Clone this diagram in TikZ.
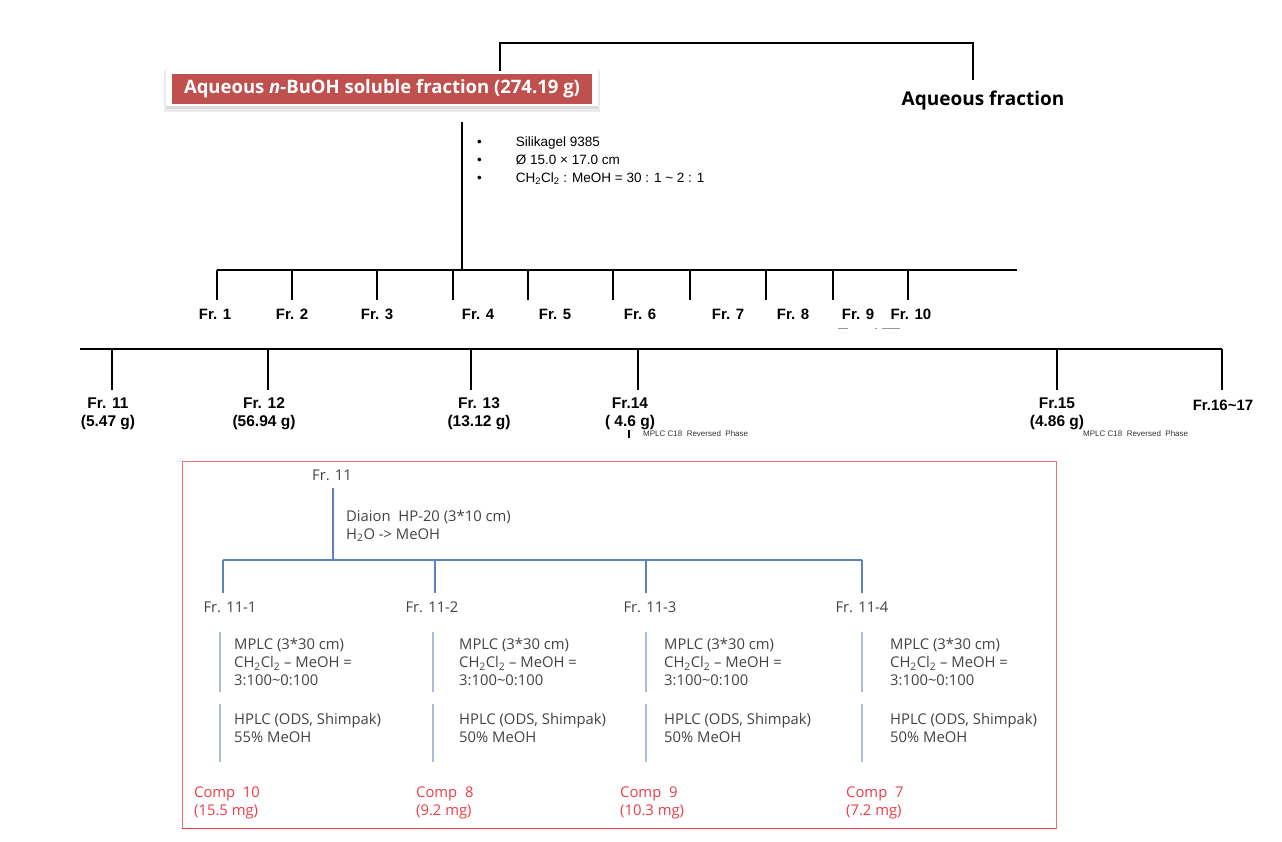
\documentclass[tikz,border=0pt]{standalone}
\usepackage{fontspec}
\setmainfont{Liberation Sans}
\newfontfamily\osans{Open Sans}
\usetikzlibrary{calc}
\definecolor{boxred}{RGB}{192,80,77}
\definecolor{frame}{RGB}{240,110,110}
\definecolor{blueline}{RGB}{90,130,190}
\definecolor{lightblue}{RGB}{170,188,218}
\definecolor{txt}{RGB}{70,65,65}
\definecolor{comp}{RGB}{238,60,70}
\tikzset{
  blk/.style={line width=2.6pt, black},
  frlab/.style={font=\fontsize{15}{17}\selectfont\bfseries, inner sep=0pt},
  frlab2/.style={font=\fontsize{15.5}{18}\selectfont\bfseries, inner sep=0pt, align=center},
  bl/.style={line width=1.1pt, blueline},
  lbl/.style={line width=1.1pt, lightblue},
  stxt/.style={font=\osans\fontsize{14.8}{18}\selectfont, text=txt, inner sep=0pt, align=left},
  ctxt/.style={font=\osans\fontsize{14.8}{18}\selectfont, text=comp, inner sep=0pt, align=left},
  tiny/.style={font=\fontsize{8}{9}\selectfont, inner sep=0pt, text=black!80},
}
\begin{document}
\begin{tikzpicture}[x=1pt,y=-1pt]
\useasboundingbox (0,0) rectangle (1282,842);
% main box with soft shadow
\fill[black!8] (164,70) rectangle (600,112);
\fill[black!14] (166,104) rectangle (598,109);
\fill[white] (166,70) rectangle (598,106);
\node[fill=boxred, text=white, minimum width=420pt, minimum height=30pt, inner sep=0pt,
  font=\osans\fontsize{18.5}{20}\selectfont\bfseries] (bu) at (382,89)
  {Aqueous \textit{n}-BuOH soluble fraction (274.19 g)};
\node[font=\osans\fontsize{19}{20}\selectfont\bfseries, inner sep=0pt] (aq) at (983,101) {Aqueous fraction};
\coordinate (tl) at (500,43);
\coordinate (tr) at (973,43);
\coordinate (ab) at (973,80);
\draw[blk] (500,71) -- (tl) -- (tr) -- (ab);
% main trunk
\coordinate (t0) at (462,122);
\coordinate (t1) at (462,270);
\draw[blk] (t0) -- (t1);
\node[anchor=north west, inner sep=0pt, font=\fontsize{13.5}{18}\selectfont] (cond) at (477,134)
 {\begin{tabular}{@{}l@{\hspace{34pt}}l@{}}
  \textbullet & Silikagel 9385\\
  \textbullet & Ø 15.0 × 17.0 cm\\
  \textbullet & CH\textsubscript{2}Cl\textsubscript{2} : MeOH = 30 : 1 \char`~\ 2 : 1
 \end{tabular}};
% row 1
\coordinate (r1l) at (217,270);
\coordinate (r1r) at (1017,270);
\draw[blk] (r1l) -- (r1r);
\foreach \x in {217,292,377,453,528,613,690,766,833,908}
  \draw[blk] (\x,270) -- (\x,300);
\foreach \n/\x/\t in {1/215/Fr. 1,2/292/Fr. 2,3/377/Fr. 3,4/478/Fr. 4,5/555/Fr. 5,6/640/Fr. 6,7/728/Fr. 7,8/793/Fr. 8,9/858/Fr. 9,10/911/Fr. 10}
  \node[frlab] (f\n) at (\x,314) {\t};
\draw[black!40, line width=0.8pt] (838,328) -- (848,328) (875,328) -- (877,328) (882,328) -- (900,328);
% row 2
\coordinate (r2l) at (80,349);
\coordinate (r2r) at (1222,349);
\draw[blk] (r2l) -- (r2r);
\foreach \x in {112,268,471,638,1057,1222}
  \draw[blk] (\x,349) -- (\x,390);
\node[frlab2] (f11) at (108,414) {Fr. 11\\(5.47 g)};
\node[frlab2] (f12) at (264,414) {Fr. 12\\(56.94 g)};
\node[frlab2] (f13) at (479,414) {Fr. 13\\(13.12 g)};
\node[frlab2] (f14) at (630,414) {Fr.14\\( 4.6 g)};
\node[frlab2] (f15) at (1057,414) {Fr.15\\(4.86 g)};
\node[frlab] (f16) at (1223,405) {Fr.16\char`~17};
\draw[line width=2pt] (629,430) -- (629,438);
\node[tiny, anchor=west] (m14) at (643,434) {MPLC C18 \ Reversed \ Phase};
\node[tiny, anchor=west] (m15) at (1083,434) {MPLC C18 \ Reversed \ Phase};
% bottom frame
\draw[frame, line width=1pt] (182,461) rectangle (1056,828);
\draw[comp, line width=1pt] (182,828) -- (1056,828);
\node[stxt] (s11) at (332,475) {Fr. 11};
\coordinate (sv) at (333,560);
\draw[bl] (333,488) -- (sv);
\node[stxt, anchor=west] (dia) at (346,526) {Diaion \ HP-20 (3*10 cm)\\H\textsubscript{2}O -> MeOH};
\coordinate (bl1) at (223,560);
\coordinate (bl2) at (862,560);
\draw[bl] (bl1) -- (bl2);
\foreach \x in {223,435,646,862}
  \draw[bl] (\x,560) -- (\x,593);
\node[stxt] (s111) at (230,607) {Fr. 11-1};
\node[stxt] (s112) at (432,607) {Fr. 11-2};
\node[stxt] (s113) at (650,607) {Fr. 11-3};
\node[stxt] (s114) at (862,607) {Fr. 11-4};
\foreach \x/\t/\h/\cx/\c/\m in {220/234/55/194/10/15.5, 433/459/50/416/8/9.2, 646/664/50/620/9/10.3, 862/890/50/846/7/7.2}{
  \draw[lbl] (\x,632) -- (\x,692);
  \draw[lbl] (\x,704) -- (\x,762);
  \node[stxt, anchor=west] (mp\c) at (\t,662) {MPLC (3*30 cm)\\CH\textsubscript{2}Cl\textsubscript{2} – MeOH =\\3:100\char`~0:100};
  \node[stxt, anchor=west] (hp\c) at (\t,728) {HPLC (ODS, Shimpak)\\\h\% MeOH};
  \node[ctxt, anchor=west] (c\c) at (\cx,803) {Comp \ \c\\(\m\ mg)};
}
\end{tikzpicture}
\end{document}
